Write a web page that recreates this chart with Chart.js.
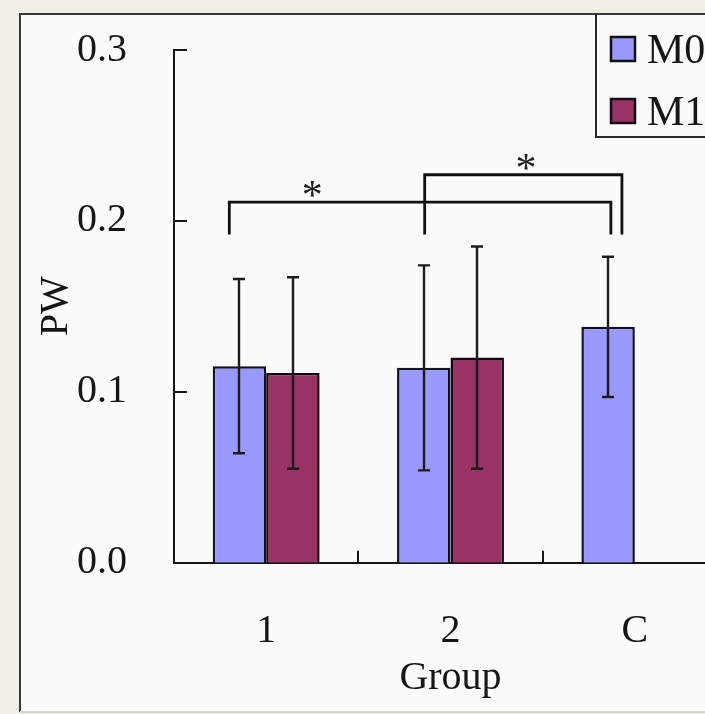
<!DOCTYPE html>
<html>
<head>
<meta charset="utf-8">
<title>PW by group</title>
<script src="https://cdn.jsdelivr.net/npm/chart.js@4/dist/chart.umd.min.js"></script>
<style>
  html, body { margin: 0; padding: 0; overflow: hidden; background: #efefe7; }
  #wrap { position: relative; width: 705px; height: 714px; overflow: hidden; }
  #chart { position: absolute; left: 0; top: 0; }
</style>
</head>
<body>
<div id="wrap"><canvas id="chart" width="760" height="714"></canvas></div>
<script>
// data
const groups = ['1', '2', 'C'];
const seriesNames = ['M0', 'M1'];
const m0Mean = [0.115, 0.114, 0.138];
const m0Err  = [0.051, 0.060, 0.041];
const m1Mean = [0.111, 0.120, null];
const m1Err  = [0.056, 0.065, null];
const yTicks = [0.0, 0.1, 0.2, 0.3];
// significance brackets (from/to on the category axis, heights in PW units)
const brackets = [
  { from: -0.2, to: 1.87, base: 0.192, top: 0.211, star: 0.25, label: '*' },
  { from: 0.86, to: 1.93, base: 0.192, top: 0.227, star: 1.41, label: '*' }
];

const SERIF = "'Liberation Serif', 'Times New Roman', serif";
const INK = '#161616';
const errors = [m0Err, m1Err];

// page frame behind the plot
const framePlugin = {
  id: 'frame',
  beforeDraw(chart) {
    const { ctx, width, height } = chart;
    ctx.save();
    ctx.fillStyle = '#efefe7';
    ctx.fillRect(0, 0, width, height);
    ctx.fillStyle = '#fbfbfb';
    ctx.fillRect(20, 14, width, 698);
    ctx.strokeStyle = '#3a3a3a';
    ctx.lineWidth = 2;
    ctx.beginPath();
    ctx.moveTo(20, 712); ctx.lineTo(20, 14); ctx.lineTo(width, 14);
    ctx.stroke();
    ctx.strokeStyle = '#d4d4d0';
    ctx.beginPath();
    ctx.moveTo(20, 712); ctx.lineTo(width, 712);
    ctx.stroke();
    ctx.restore();
  }
};

// inward tick marks on both axes
const tickPlugin = {
  id: 'inTicks',
  afterDraw(chart) {
    const { ctx, chartArea, scales: { x, y } } = chart;
    ctx.save();
    ctx.strokeStyle = INK;
    ctx.lineWidth = 2;
    ctx.beginPath();
    yTicks.forEach(v => {
      if (v === 0) return;
      const py = Math.round(y.getPixelForValue(v));
      ctx.moveTo(chartArea.left, py);
      ctx.lineTo(chartArea.left + 13, py);
    });
    for (let i = 0; i < groups.length - 1; i++) {
      const px = Math.round(x.getPixelForValue(i + 0.5));
      ctx.moveTo(px, chartArea.bottom);
      ctx.lineTo(px, chartArea.bottom - 12);
    }
    ctx.stroke();
    ctx.restore();
  }
};

// error bars, brackets and asterisks
const errorPlugin = {
  id: 'errorBars',
  afterDatasetsDraw(chart) {
    const { ctx, scales: { x, y } } = chart;
    ctx.save();
    ctx.strokeStyle = '#1c1c1c';
    ctx.lineWidth = 2.4;
    chart.data.datasets.forEach((ds, i) => {
      const meta = chart.getDatasetMeta(i);
      meta.data.forEach((bar, j) => {
        const v = ds.data[j], e = errors[i][j];
        if (v == null || e == null) return;
        const px = Math.round(bar.x);
        const hi = y.getPixelForValue(v + e);
        const lo = y.getPixelForValue(v - e);
        ctx.beginPath();
        ctx.moveTo(px, hi); ctx.lineTo(px, lo);
        ctx.moveTo(px - 6, hi); ctx.lineTo(px + 6, hi);
        ctx.moveTo(px - 6, lo); ctx.lineTo(px + 6, lo);
        ctx.stroke();
      });
    });

    ctx.strokeStyle = '#111';
    ctx.lineWidth = 2.8;
    ctx.fillStyle = '#222';
    ctx.font = '42px ' + SERIF;
    ctx.textAlign = 'center';
    ctx.textBaseline = 'alphabetic';
    brackets.forEach(b => {
      const x1 = x.getPixelForValue(b.from), x2 = x.getPixelForValue(b.to);
      const yb = y.getPixelForValue(b.base), yt = y.getPixelForValue(b.top);
      ctx.beginPath();
      ctx.moveTo(x1, yb); ctx.lineTo(x1, yt); ctx.lineTo(x2, yt); ctx.lineTo(x2, yb);
      ctx.stroke();
      // centre the glyph about 13px above the bracket
      const m = ctx.measureText(b.label);
      const cy = yt - 13;
      const base = cy + (m.actualBoundingBoxAscent - m.actualBoundingBoxDescent) / 2;
      ctx.fillText(b.label, x.getPixelForValue(b.star), base);
    });
    ctx.restore();
  }
};

// boxed legend in the upper right corner
const legendPlugin = {
  id: 'boxLegend',
  afterDraw(chart) {
    const { ctx, width } = chart;
    ctx.save();
    ctx.strokeStyle = '#2a2a2a';
    ctx.lineWidth = 2;
    ctx.beginPath();
    ctx.moveTo(596, 14); ctx.lineTo(596, 137); ctx.lineTo(width, 137);
    ctx.stroke();
    ctx.font = '42px ' + SERIF;
    ctx.textBaseline = 'alphabetic';
    ctx.textAlign = 'left';
    chart.data.datasets.forEach((ds, i) => {
      const top = 37 + i * 62;
      ctx.fillStyle = ds.backgroundColor;
      ctx.fillRect(611, top, 24, 24);
      ctx.strokeStyle = '#111';
      ctx.lineWidth = 2.5;
      ctx.strokeRect(611, top, 24, 24);
      ctx.fillStyle = INK;
      ctx.fillText(ds.label, 647, top + 26);
    });
    ctx.restore();
  }
};

new Chart(document.getElementById('chart'), {
  type: 'bar',
  data: {
    labels: groups,
    datasets: [
      { label: seriesNames[0], data: m0Mean, backgroundColor: '#9999ff', borderColor: '#111122', borderWidth: 2.5, borderSkipped: 'bottom' },
      { label: seriesNames[1], data: m1Mean, backgroundColor: '#993366', borderColor: '#140810', borderWidth: 2.5, borderSkipped: 'bottom' }
    ]
  },
  options: {
    responsive: false,
    animation: false,
    events: [],
    categoryPercentage: 0.58,
    barPercentage: 1.0,
    layout: { padding: { top: 50, right: 33, left: 0, bottom: 0 } },
    plugins: {
      legend: { display: false },
      tooltip: { enabled: false }
    },
    scales: {
      x: {
        grid: { display: false, drawTicks: false, tickLength: 0 },
        border: { display: true, color: INK, width: 2 },
        ticks: { color: INK, padding: 45, font: { family: SERIF, size: 40 } },
        title: { display: true, text: 'Group', color: INK, font: { family: SERIF, size: 40 }, padding: { top: 0, bottom: 12 } },
        afterFit(s) { s.height = 151.3; s.paddingLeft = 0; s.paddingRight = 0; }
      },
      y: {
        min: 0,
        max: 0.3,
        grid: { display: false, drawTicks: false, tickLength: 0 },
        border: { display: true, color: INK, width: 2 },
        ticks: {
          color: INK,
          padding: 47,
          font: { family: SERIF, size: 40 },
          callback: v => Number(v).toFixed(1)
        },
        afterBuildTicks(s) { s.ticks = yTicks.map(v => ({ value: v })); },
        title: { display: true, text: 'PW', color: INK, font: { family: SERIF, size: 40 }, padding: { top: 32, bottom: 0 } },
        afterFit(s) { s.width = 174; s.paddingTop = 0; s.paddingBottom = 0; }
      }
    }
  },
  plugins: [framePlugin, tickPlugin, errorPlugin, legendPlugin]
});
</script>
</body>
</html>
